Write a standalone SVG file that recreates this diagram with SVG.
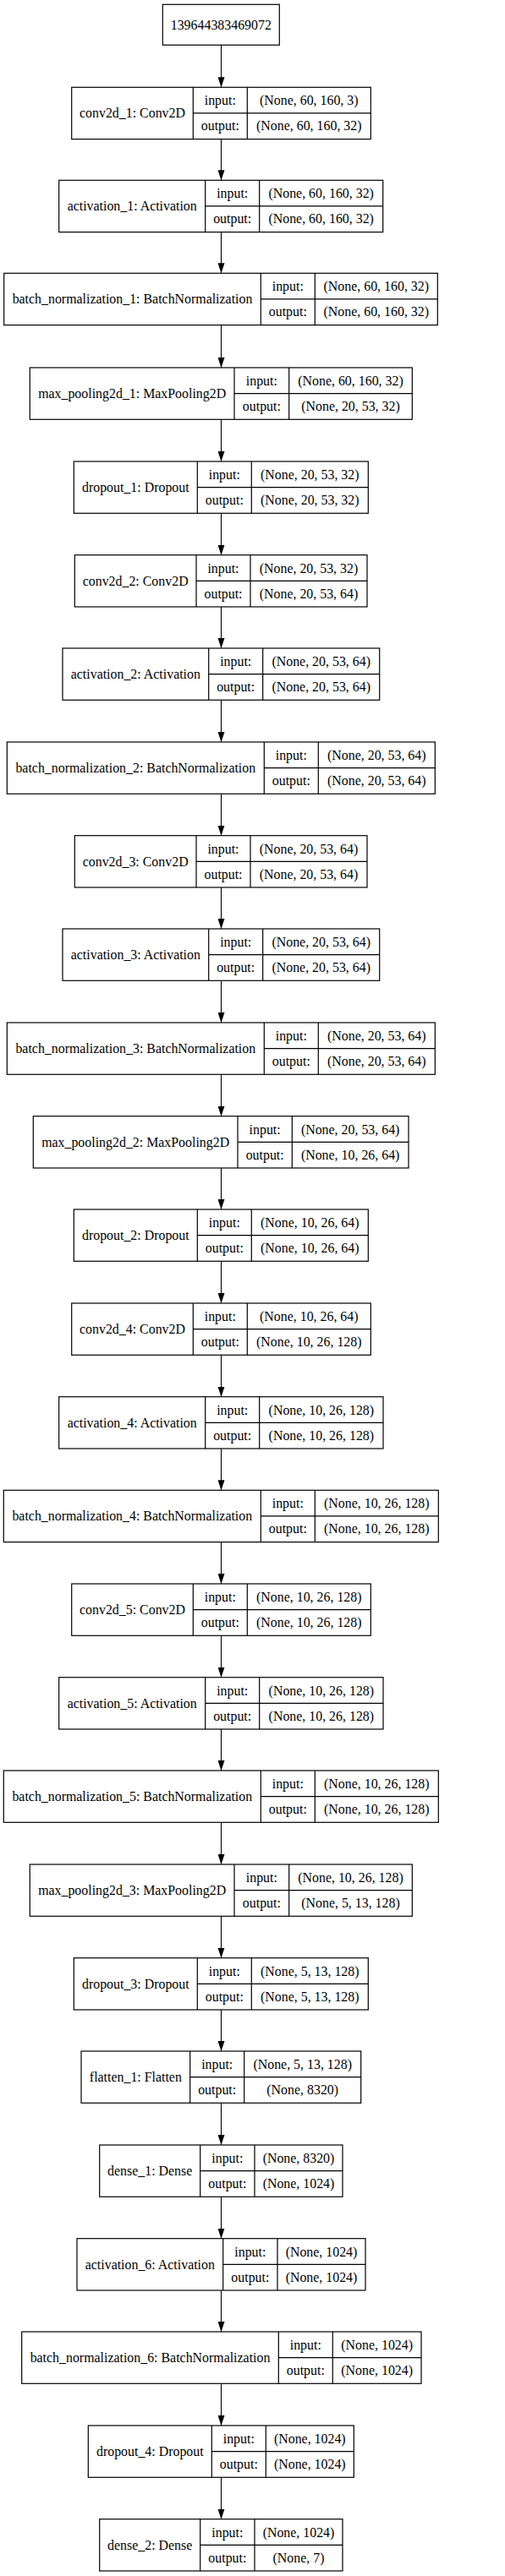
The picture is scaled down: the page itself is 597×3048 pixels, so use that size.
<svg xmlns="http://www.w3.org/2000/svg" width="597" height="3048" viewBox="0 0 597 3048">
<style>
.box{fill:#fff;stroke:#000;stroke-width:1.2}
.ln{fill:none;stroke:#000;stroke-width:1.2}
.edge{fill:none;stroke:#000;stroke-width:1.1}
text{font-family:"Liberation Serif","Times New Roman",serif;font-size:15.9px;text-anchor:middle;fill:#000}
</style>
<defs>
<marker id="arr" markerUnits="userSpaceOnUse" markerWidth="12" markerHeight="8" refX="12" refY="4" orient="auto">
<path d="M0,0 L12,4 L0,8 z" fill="#000"/>
</marker>
</defs>
<rect width="597" height="3048" fill="#fff"/>
<g id="connectors">
<path class="edge" marker-end="url(#arr)" d="M261.5 53.3V103.3"/>
<path class="edge" marker-end="url(#arr)" d="M261.5 164.6V213.3"/>
<path class="edge" marker-end="url(#arr)" d="M261.5 274.6V323.3"/>
<path class="edge" marker-end="url(#arr)" d="M261.5 384.6V435"/>
<path class="edge" marker-end="url(#arr)" d="M261.5 496.3V546"/>
<path class="edge" marker-end="url(#arr)" d="M261.5 607.3V656.7"/>
<path class="edge" marker-end="url(#arr)" d="M261.5 718V767"/>
<path class="edge" marker-end="url(#arr)" d="M261.5 828.3V878"/>
<path class="edge" marker-end="url(#arr)" d="M261.5 939.3V988.7"/>
<path class="edge" marker-end="url(#arr)" d="M261.5 1050V1099"/>
<path class="edge" marker-end="url(#arr)" d="M261.5 1160.3V1210"/>
<path class="edge" marker-end="url(#arr)" d="M261.5 1271.3V1320.7"/>
<path class="edge" marker-end="url(#arr)" d="M261.5 1382V1431"/>
<path class="edge" marker-end="url(#arr)" d="M261.5 1492.3V1542"/>
<path class="edge" marker-end="url(#arr)" d="M261.5 1603.3V1652.7"/>
<path class="edge" marker-end="url(#arr)" d="M261.5 1714V1763.3"/>
<path class="edge" marker-end="url(#arr)" d="M261.5 1824.6V1874"/>
<path class="edge" marker-end="url(#arr)" d="M261.5 1935.3V1984.7"/>
<path class="edge" marker-end="url(#arr)" d="M261.5 2046V2095"/>
<path class="edge" marker-end="url(#arr)" d="M261.5 2156.3V2206"/>
<path class="edge" marker-end="url(#arr)" d="M261.5 2267.3V2316.7"/>
<path class="edge" marker-end="url(#arr)" d="M261.5 2378V2427"/>
<path class="edge" marker-end="url(#arr)" d="M261.5 2488.3V2538"/>
<path class="edge" marker-end="url(#arr)" d="M261.5 2599.3V2648.7"/>
<path class="edge" marker-end="url(#arr)" d="M261.5 2710V2759"/>
<path class="edge" marker-end="url(#arr)" d="M261.5 2820.3V2870"/>
<path class="edge" marker-end="url(#arr)" d="M261.5 2931.3V2980.7"/>
</g>
<g id="input_node">
<rect class="box" x="192.3" y="5.3" width="138" height="48"/>
<text x="261.3" y="34.6">139644383469072</text>
</g>
<g id="conv2d_1" transform="translate(0,103.3)">
<rect class="box" x="84.7" y="0" width="353.6" height="61.3"/>
<path class="ln" d="M228.3 0V61.3M292.3 0V61.3M228.3 30.65H438.3"/>
<text x="156.5" y="35.9">conv2d_1: Conv2D</text>
<text x="260.3" y="21">input:</text><text x="260.3" y="51.2">output:</text>
<text x="365.3" y="21">(None, 60, 160, 3)</text><text x="365.3" y="51.2">(None, 60, 160, 32)</text>
</g>
<g id="activation_1" transform="translate(0,213.3)">
<rect class="box" x="69.7" y="0" width="383" height="61.3"/>
<path class="ln" d="M242.7 0V61.3M306.7 0V61.3M242.7 30.65H452.7"/>
<text x="156.2" y="35.9">activation_1: Activation</text>
<text x="274.7" y="21">input:</text><text x="274.7" y="51.2">output:</text>
<text x="379.7" y="21">(None, 60, 160, 32)</text><text x="379.7" y="51.2">(None, 60, 160, 32)</text>
</g>
<g id="batch_normalization_1" transform="translate(0,323.3)">
<rect class="box" x="4.7" y="0" width="512.6" height="61.3"/>
<path class="ln" d="M308.3 0V61.3M372.3 0V61.3M308.3 30.65H517.3"/>
<text x="156.5" y="35.9">batch_normalization_1: BatchNormalization</text>
<text x="340.3" y="21">input:</text><text x="340.3" y="51.2">output:</text>
<text x="444.8" y="21">(None, 60, 160, 32)</text><text x="444.8" y="51.2">(None, 60, 160, 32)</text>
</g>
<g id="max_pooling2d_1" transform="translate(0,435)">
<rect class="box" x="35.3" y="0" width="452" height="61.3"/>
<path class="ln" d="M277 0V61.3M341.7 0V61.3M277 30.65H487.3"/>
<text x="156.15" y="35.9">max_pooling2d_1: MaxPooling2D</text>
<text x="309.35" y="21">input:</text><text x="309.35" y="51.2">output:</text>
<text x="414.5" y="21">(None, 60, 160, 32)</text><text x="414.5" y="51.2">(None, 20, 53, 32)</text>
</g>
<g id="dropout_1" transform="translate(0,546)">
<rect class="box" x="87.3" y="0" width="348" height="61.3"/>
<path class="ln" d="M233.3 0V61.3M297.3 0V61.3M233.3 30.65H435.3"/>
<text x="160.3" y="35.9">dropout_1: Dropout</text>
<text x="265.3" y="21">input:</text><text x="265.3" y="51.2">output:</text>
<text x="366.3" y="21">(None, 20, 53, 32)</text><text x="366.3" y="51.2">(None, 20, 53, 32)</text>
</g>
<g id="conv2d_2" transform="translate(0,656.7)">
<rect class="box" x="88.3" y="0" width="345.7" height="61.3"/>
<path class="ln" d="M232 0V61.3M296 0V61.3M232 30.65H434"/>
<text x="160.15" y="35.9">conv2d_2: Conv2D</text>
<text x="264" y="21">input:</text><text x="264" y="51.2">output:</text>
<text x="365" y="21">(None, 20, 53, 32)</text><text x="365" y="51.2">(None, 20, 53, 64)</text>
</g>
<g id="activation_2" transform="translate(0,767)">
<rect class="box" x="74" y="0" width="374.7" height="61.3"/>
<path class="ln" d="M246.7 0V61.3M310.7 0V61.3M246.7 30.65H448.7"/>
<text x="160.35" y="35.9">activation_2: Activation</text>
<text x="278.7" y="21">input:</text><text x="278.7" y="51.2">output:</text>
<text x="379.7" y="21">(None, 20, 53, 64)</text><text x="379.7" y="51.2">(None, 20, 53, 64)</text>
</g>
<g id="batch_normalization_2" transform="translate(0,878)">
<rect class="box" x="8.3" y="0" width="506" height="61.3"/>
<path class="ln" d="M312.3 0V61.3M376.3 0V61.3M312.3 30.65H514.3"/>
<text x="160.3" y="35.9">batch_normalization_2: BatchNormalization</text>
<text x="344.3" y="21">input:</text><text x="344.3" y="51.2">output:</text>
<text x="445.3" y="21">(None, 20, 53, 64)</text><text x="445.3" y="51.2">(None, 20, 53, 64)</text>
</g>
<g id="conv2d_3" transform="translate(0,988.7)">
<rect class="box" x="88.3" y="0" width="345.7" height="61.3"/>
<path class="ln" d="M232 0V61.3M296 0V61.3M232 30.65H434"/>
<text x="160.15" y="35.9">conv2d_3: Conv2D</text>
<text x="264" y="21">input:</text><text x="264" y="51.2">output:</text>
<text x="365" y="21">(None, 20, 53, 64)</text><text x="365" y="51.2">(None, 20, 53, 64)</text>
</g>
<g id="activation_3" transform="translate(0,1099)">
<rect class="box" x="74" y="0" width="374.7" height="61.3"/>
<path class="ln" d="M246.7 0V61.3M310.7 0V61.3M246.7 30.65H448.7"/>
<text x="160.35" y="35.9">activation_3: Activation</text>
<text x="278.7" y="21">input:</text><text x="278.7" y="51.2">output:</text>
<text x="379.7" y="21">(None, 20, 53, 64)</text><text x="379.7" y="51.2">(None, 20, 53, 64)</text>
</g>
<g id="batch_normalization_3" transform="translate(0,1210)">
<rect class="box" x="8.3" y="0" width="506" height="61.3"/>
<path class="ln" d="M312.3 0V61.3M376.3 0V61.3M312.3 30.65H514.3"/>
<text x="160.3" y="35.9">batch_normalization_3: BatchNormalization</text>
<text x="344.3" y="21">input:</text><text x="344.3" y="51.2">output:</text>
<text x="445.3" y="21">(None, 20, 53, 64)</text><text x="445.3" y="51.2">(None, 20, 53, 64)</text>
</g>
<g id="max_pooling2d_2" transform="translate(0,1320.7)">
<rect class="box" x="39.3" y="0" width="443.7" height="61.3"/>
<path class="ln" d="M281 0V61.3M345.3 0V61.3M281 30.65H483"/>
<text x="160.15" y="35.9">max_pooling2d_2: MaxPooling2D</text>
<text x="313.15" y="21">input:</text><text x="313.15" y="51.2">output:</text>
<text x="414.15" y="21">(None, 20, 53, 64)</text><text x="414.15" y="51.2">(None, 10, 26, 64)</text>
</g>
<g id="dropout_2" transform="translate(0,1431)">
<rect class="box" x="87.3" y="0" width="348" height="61.3"/>
<path class="ln" d="M233.3 0V61.3M297.3 0V61.3M233.3 30.65H435.3"/>
<text x="160.3" y="35.9">dropout_2: Dropout</text>
<text x="265.3" y="21">input:</text><text x="265.3" y="51.2">output:</text>
<text x="366.3" y="21">(None, 10, 26, 64)</text><text x="366.3" y="51.2">(None, 10, 26, 64)</text>
</g>
<g id="conv2d_4" transform="translate(0,1542)">
<rect class="box" x="84.7" y="0" width="353.6" height="61.3"/>
<path class="ln" d="M228.3 0V61.3M292.3 0V61.3M228.3 30.65H438.3"/>
<text x="156.5" y="35.9">conv2d_4: Conv2D</text>
<text x="260.3" y="21">input:</text><text x="260.3" y="51.2">output:</text>
<text x="365.3" y="21">(None, 10, 26, 64)</text><text x="365.3" y="51.2">(None, 10, 26, 128)</text>
</g>
<g id="activation_4" transform="translate(0,1652.7)">
<rect class="box" x="69.7" y="0" width="383.3" height="61.3"/>
<path class="ln" d="M242.7 0V61.3M306.7 0V61.3M242.7 30.65H453"/>
<text x="156.2" y="35.9">activation_4: Activation</text>
<text x="274.7" y="21">input:</text><text x="274.7" y="51.2">output:</text>
<text x="379.85" y="21">(None, 10, 26, 128)</text><text x="379.85" y="51.2">(None, 10, 26, 128)</text>
</g>
<g id="batch_normalization_4" transform="translate(0,1763.3)">
<rect class="box" x="4.3" y="0" width="514" height="61.3"/>
<path class="ln" d="M308.3 0V61.3M372.3 0V61.3M308.3 30.65H518.3"/>
<text x="156.3" y="35.9">batch_normalization_4: BatchNormalization</text>
<text x="340.3" y="21">input:</text><text x="340.3" y="51.2">output:</text>
<text x="445.3" y="21">(None, 10, 26, 128)</text><text x="445.3" y="51.2">(None, 10, 26, 128)</text>
</g>
<g id="conv2d_5" transform="translate(0,1874)">
<rect class="box" x="84.7" y="0" width="353.6" height="61.3"/>
<path class="ln" d="M228.3 0V61.3M292.3 0V61.3M228.3 30.65H438.3"/>
<text x="156.5" y="35.9">conv2d_5: Conv2D</text>
<text x="260.3" y="21">input:</text><text x="260.3" y="51.2">output:</text>
<text x="365.3" y="21">(None, 10, 26, 128)</text><text x="365.3" y="51.2">(None, 10, 26, 128)</text>
</g>
<g id="activation_5" transform="translate(0,1984.7)">
<rect class="box" x="69.7" y="0" width="383.3" height="61.3"/>
<path class="ln" d="M242.7 0V61.3M306.7 0V61.3M242.7 30.65H453"/>
<text x="156.2" y="35.9">activation_5: Activation</text>
<text x="274.7" y="21">input:</text><text x="274.7" y="51.2">output:</text>
<text x="379.85" y="21">(None, 10, 26, 128)</text><text x="379.85" y="51.2">(None, 10, 26, 128)</text>
</g>
<g id="batch_normalization_5" transform="translate(0,2095)">
<rect class="box" x="4.3" y="0" width="514" height="61.3"/>
<path class="ln" d="M308.3 0V61.3M372.3 0V61.3M308.3 30.65H518.3"/>
<text x="156.3" y="35.9">batch_normalization_5: BatchNormalization</text>
<text x="340.3" y="21">input:</text><text x="340.3" y="51.2">output:</text>
<text x="445.3" y="21">(None, 10, 26, 128)</text><text x="445.3" y="51.2">(None, 10, 26, 128)</text>
</g>
<g id="max_pooling2d_3" transform="translate(0,2206)">
<rect class="box" x="35.3" y="0" width="452" height="61.3"/>
<path class="ln" d="M277 0V61.3M341.7 0V61.3M277 30.65H487.3"/>
<text x="156.15" y="35.9">max_pooling2d_3: MaxPooling2D</text>
<text x="309.35" y="21">input:</text><text x="309.35" y="51.2">output:</text>
<text x="414.5" y="21">(None, 10, 26, 128)</text><text x="414.5" y="51.2">(None, 5, 13, 128)</text>
</g>
<g id="dropout_3" transform="translate(0,2316.7)">
<rect class="box" x="87.3" y="0" width="348" height="61.3"/>
<path class="ln" d="M233.3 0V61.3M297.3 0V61.3M233.3 30.65H435.3"/>
<text x="160.3" y="35.9">dropout_3: Dropout</text>
<text x="265.3" y="21">input:</text><text x="265.3" y="51.2">output:</text>
<text x="366.3" y="21">(None, 5, 13, 128)</text><text x="366.3" y="51.2">(None, 5, 13, 128)</text>
</g>
<g id="flatten_1" transform="translate(0,2427)">
<rect class="box" x="96" y="0" width="330.7" height="61.3"/>
<path class="ln" d="M224.7 0V61.3M288.7 0V61.3M224.7 30.65H426.7"/>
<text x="160.35" y="35.9">flatten_1: Flatten</text>
<text x="256.7" y="21">input:</text><text x="256.7" y="51.2">output:</text>
<text x="357.7" y="21">(None, 5, 13, 128)</text><text x="357.7" y="51.2">(None, 8320)</text>
</g>
<g id="dense_1" transform="translate(0,2538)">
<rect class="box" x="117.7" y="0" width="287.3" height="61.3"/>
<path class="ln" d="M236.7 0V61.3M301 0V61.3M236.7 30.65H405"/>
<text x="177.2" y="35.9">dense_1: Dense</text>
<text x="268.85" y="21">input:</text><text x="268.85" y="51.2">output:</text>
<text x="353" y="21">(None, 8320)</text><text x="353" y="51.2">(None, 1024)</text>
</g>
<g id="activation_6" transform="translate(0,2648.7)">
<rect class="box" x="91" y="0" width="341" height="61.3"/>
<path class="ln" d="M263.7 0V61.3M328 0V61.3M263.7 30.65H432"/>
<text x="177.35" y="35.9">activation_6: Activation</text>
<text x="295.85" y="21">input:</text><text x="295.85" y="51.2">output:</text>
<text x="380" y="21">(None, 1024)</text><text x="380" y="51.2">(None, 1024)</text>
</g>
<g id="batch_normalization_6" transform="translate(0,2759)">
<rect class="box" x="25.7" y="0" width="472.3" height="61.3"/>
<path class="ln" d="M329.3 0V61.3M393.3 0V61.3M329.3 30.65H498"/>
<text x="177.5" y="35.9">batch_normalization_6: BatchNormalization</text>
<text x="361.3" y="21">input:</text><text x="361.3" y="51.2">output:</text>
<text x="445.65" y="21">(None, 1024)</text><text x="445.65" y="51.2">(None, 1024)</text>
</g>
<g id="dropout_4" transform="translate(0,2870)">
<rect class="box" x="104.3" y="0" width="314" height="61.3"/>
<path class="ln" d="M250.3 0V61.3M314.3 0V61.3M250.3 30.65H418.3"/>
<text x="177.3" y="35.9">dropout_4: Dropout</text>
<text x="282.3" y="21">input:</text><text x="282.3" y="51.2">output:</text>
<text x="366.3" y="21">(None, 1024)</text><text x="366.3" y="51.2">(None, 1024)</text>
</g>
<g id="dense_2" transform="translate(0,2980.7)">
<rect class="box" x="117.7" y="0" width="287.3" height="61.3"/>
<path class="ln" d="M236.7 0V61.3M301 0V61.3M236.7 30.65H405"/>
<text x="177.2" y="35.9">dense_2: Dense</text>
<text x="268.85" y="21">input:</text><text x="268.85" y="51.2">output:</text>
<text x="353" y="21">(None, 1024)</text><text x="353" y="51.2">(None, 7)</text>
</g>
</svg>
